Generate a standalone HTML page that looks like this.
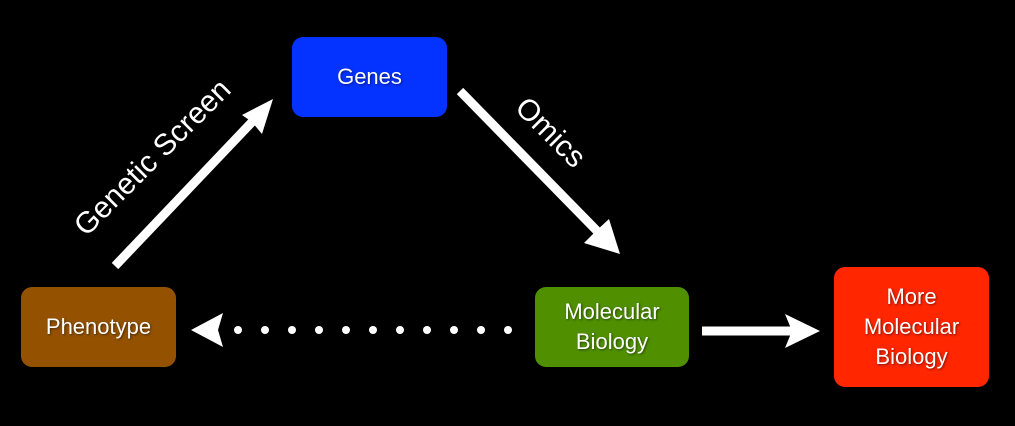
<!DOCTYPE html>
<html><head><style>
body{margin:0;background:#000;width:1015px;height:426px;overflow:hidden;font-family:"Liberation Sans",sans-serif;}
.b{position:absolute;border-radius:11px;color:#fff;display:flex;align-items:center;justify-content:center;text-align:center;font-size:22px;line-height:30px;text-shadow:1px 1px 2px rgba(0,0,0,.5);}
.l{position:absolute;color:#fff;font-size:30px;white-space:nowrap;transform-origin:center;}
</style></head><body>
<div class="b" style="left:292px;top:37px;width:155px;height:80px;background:#0433ff">Genes</div>
<div class="b" style="left:21px;top:287px;width:155px;height:80px;background:#945200">Phenotype</div>
<div class="b" style="left:535px;top:287px;width:154px;height:80px;background:#4f8f00">Molecular<br>Biology</div>
<div class="b" style="left:834px;top:267px;width:155px;height:120px;background:#ff2600">More<br>Molecular<br>Biology</div>
<svg width="1015" height="426" style="position:absolute;left:0;top:0">
<g fill="#fff" stroke="none">
<line x1="115" y1="266" x2="252" y2="122" stroke="#fff" stroke-width="9"/>
<polygon points="273,99 262,134 252,122 242,115"/>
<line x1="460" y1="91" x2="600" y2="234" stroke="#fff" stroke-width="9"/>
<polygon points="620,254 584,243 596,231 609,219"/>
<line x1="702" y1="331" x2="795" y2="331" stroke="#fff" stroke-width="9"/>
<polygon points="820,331 785,314 792,331 785,348"/>
<polygon points="191,330 223,313 218,330 223,347"/>
<circle cx="238" cy="330" r="4"/><circle cx="265" cy="330" r="4"/><circle cx="292" cy="330" r="4"/><circle cx="319" cy="330" r="4"/><circle cx="346" cy="330" r="4"/><circle cx="373" cy="330" r="4"/><circle cx="400" cy="330" r="4"/><circle cx="427" cy="330" r="4"/><circle cx="454" cy="330" r="4"/><circle cx="481" cy="330" r="4"/><circle cx="508" cy="330" r="4"/>
</g>
</svg>
<div class="l" style="left:48px;top:141px;width:210px;text-align:center;transform:rotate(-45deg)">Genetic Screen</div>
<div class="l" style="left:500px;top:116px;width:100px;text-align:center;transform:rotate(45deg)">Omics</div>
</body></html>
